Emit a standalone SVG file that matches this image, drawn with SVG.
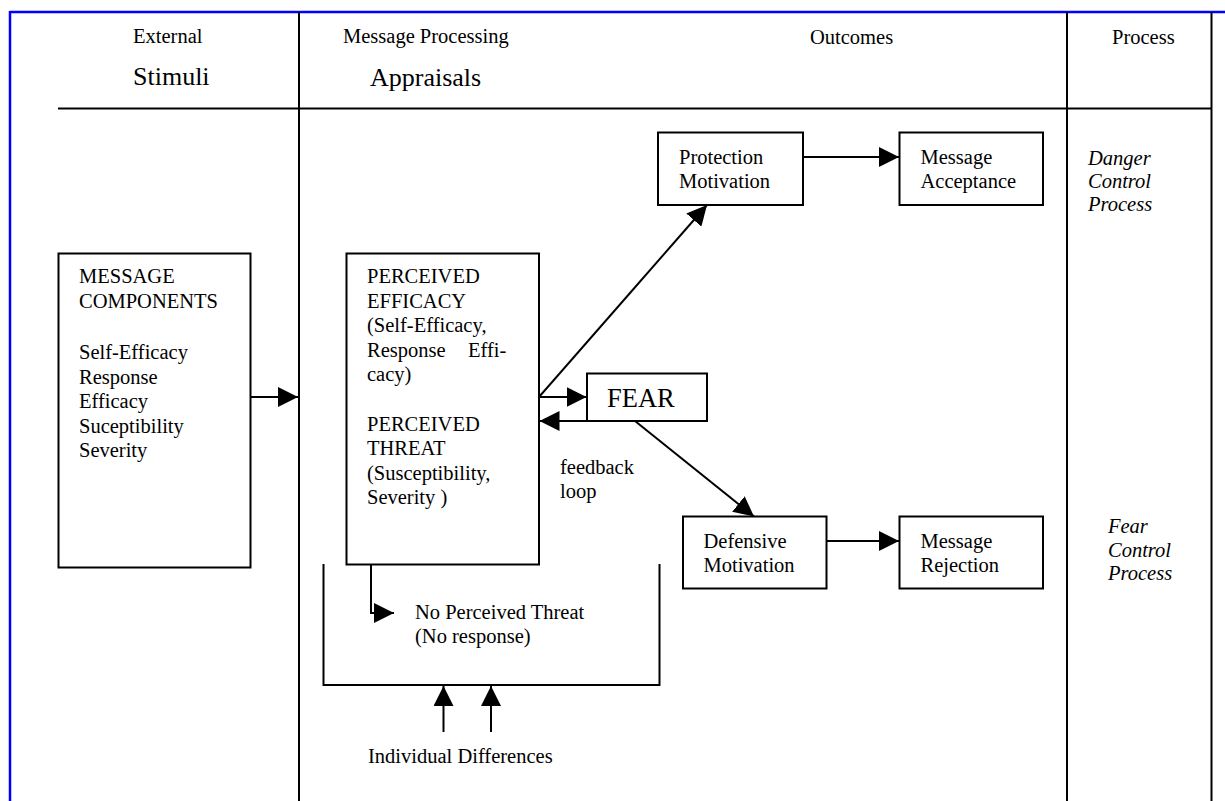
<svg xmlns="http://www.w3.org/2000/svg" width="1225" height="801" viewBox="0 0 1225 801">
<defs>
<style>
text{font-family:"Liberation Serif","Times New Roman",serif;font-size:20.5px;fill:#000}
.big{font-size:26px}
.it{font-style:italic}
.box{fill:#fff;stroke:#000;stroke-width:2}
.ln{fill:none;stroke:#000;stroke-width:2}
.blue{fill:none;stroke:#0000ff;stroke-width:2.5}
</style>
<marker id="ah" markerUnits="userSpaceOnUse" markerWidth="20" markerHeight="20" refX="20" refY="10" orient="auto" viewBox="0 0 20 20">
<path d="M0,0 L20,10 L0,20 Z" fill="#000"/>
</marker>
</defs>
<rect width="1225" height="801" fill="#fff"/>
<g id="frame">
<line class="blue" x1="10" y1="12" x2="1225" y2="12"/>
<line class="blue" x1="10" y1="11" x2="10" y2="801"/>
<line class="ln" x1="299" y1="12" x2="299" y2="801"/>
<line class="ln" x1="1067" y1="12" x2="1067" y2="801"/>
<line class="ln" x1="1211.5" y1="12" x2="1211.5" y2="801"/>
<line class="ln" x1="58" y1="108.5" x2="1212" y2="108.5"/>
</g>
<g id="headers">
<text x="133" y="43">External</text>
<text x="133" y="85" class="big">Stimuli</text>
<text x="343" y="43">Message Processing</text>
<text x="370" y="86" class="big">Appraisals</text>
<text x="810" y="44">Outcomes</text>
<text x="1112" y="44">Process</text>
</g>
<g id="message-components">
<rect class="box" x="58.5" y="253.5" width="192" height="314"/>
<text x="79">
<tspan x="79" y="283">MESSAGE</tspan>
<tspan x="79" y="308">COMPONENTS</tspan>
<tspan x="79" y="359">Self-Efficacy</tspan>
<tspan x="79" y="383.5">Response</tspan>
<tspan x="79" y="408">Efficacy</tspan>
<tspan x="79" y="432.5">Suceptibility</tspan>
<tspan x="79" y="457">Severity</tspan>
</text>
</g>
<g id="perceived">
<rect class="box" x="346.5" y="253.5" width="192.5" height="311"/>
<text x="367">
<tspan x="367" y="283">PERCEIVED</tspan>
<tspan x="367" y="308">EFFICACY</tspan>
<tspan x="367" y="332">(Self-Efficacy,</tspan>
<tspan x="367" y="357">Response</tspan><tspan x="468" y="357">Effi-</tspan>
<tspan x="367" y="381">cacy)</tspan>
<tspan x="367" y="431">PERCEIVED</tspan>
<tspan x="367" y="455">THREAT</tspan>
<tspan x="367" y="480">(Susceptibility,</tspan>
<tspan x="367" y="504">Severity )</tspan>
</text>
</g>
<g id="fear">
<rect class="box" x="587" y="373.5" width="120" height="47.5"/>
<text x="607" y="406.5" style="font-size:26.5px">FEAR</text>
</g>
<g id="protection-motivation">
<rect class="box" x="658" y="132.5" width="145" height="72.5"/>
<text><tspan x="679" y="164">Protection</tspan><tspan x="679" y="187.5">Motivation</tspan></text>
</g>
<g id="message-acceptance">
<rect class="box" x="899.5" y="132.5" width="143.5" height="72.5"/>
<text><tspan x="920.5" y="164">Message</tspan><tspan x="920.5" y="187.5">Acceptance</tspan></text>
</g>
<g id="defensive-motivation">
<rect class="box" x="683" y="516.5" width="143.5" height="72"/>
<text><tspan x="703.5" y="547.5">Defensive</tspan><tspan x="703.5" y="571.5">Motivation</tspan></text>
</g>
<g id="message-rejection">
<rect class="box" x="899.5" y="516.5" width="143.5" height="72"/>
<text><tspan x="920.5" y="547.5">Message</tspan><tspan x="920.5" y="571.5">Rejection</tspan></text>
</g>
<g id="danger-control">
<text class="it"><tspan x="1088" y="165">Danger</tspan><tspan x="1088" y="188">Control</tspan><tspan x="1088" y="211">Process</tspan></text>
</g>
<g id="fear-control">
<text class="it"><tspan x="1108" y="533">Fear</tspan><tspan x="1108" y="556.5">Control</tspan><tspan x="1108" y="580">Process</tspan></text>
</g>
<g id="feedback-label">
<text><tspan x="560" y="474">feedback</tspan><tspan x="560" y="498">loop</tspan></text>
</g>
<g id="no-threat">
<text><tspan x="415" y="619">No Perceived Threat</tspan><tspan x="415" y="643">(No response)</tspan></text>
</g>
<g id="individual-differences">
<text x="368" y="763">Individual Differences</text>
</g>
<g id="connectors">
<line class="ln" x1="250.5" y1="397" x2="298" y2="397" marker-end="url(#ah)"/>
<line class="ln" x1="539" y1="397" x2="586.5" y2="397" marker-end="url(#ah)"/>
<line class="ln" x1="587" y1="421" x2="539.5" y2="421" marker-end="url(#ah)"/>
<line class="ln" x1="539" y1="397" x2="707" y2="205" marker-end="url(#ah)"/>
<line class="ln" x1="635" y1="421" x2="754" y2="516.5" marker-end="url(#ah)"/>
<line class="ln" x1="803" y1="157" x2="899" y2="157" marker-end="url(#ah)"/>
<line class="ln" x1="826.5" y1="541" x2="899" y2="541" marker-end="url(#ah)"/>
<polyline class="ln" points="371,564.5 371,613 394,613" marker-end="url(#ah)"/>
<polyline class="ln" points="323.5,564 323.5,685 659.5,685 659.5,564"/>
<line class="ln" x1="443.5" y1="732" x2="443.5" y2="686" marker-end="url(#ah)"/>
<line class="ln" x1="491" y1="732" x2="491" y2="686" marker-end="url(#ah)"/>
</g>
</svg>
